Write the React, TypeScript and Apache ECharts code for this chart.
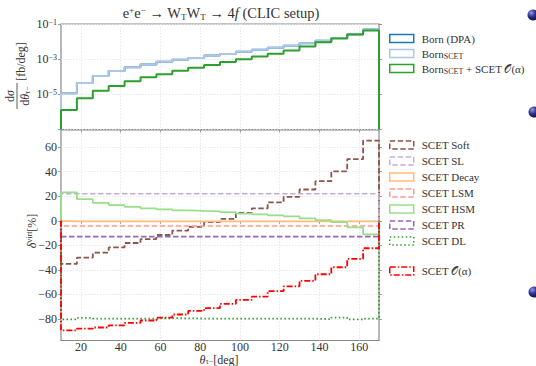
import React, { useEffect, useRef } from 'react';
import * as echarts from 'echarts';

// ---------- data ----------
const binEdges = [10, 18, 26, 34, 42, 50, 58, 66, 74, 82, 90, 98, 106, 114, 122, 130, 138, 146, 154, 162, 170];
const xTicks = [20, 40, 60, 80, 100, 120, 140, 160];
const deltaTicks = [-80, -60, -40, -20, 0, 20, 40, 60];

const bornDPA = [1.15e-5, 4.4e-5, 1.1e-4, 2.1e-4, 3.5e-4, 4.9e-4, 7.2e-4, 9.3e-4, 1.15e-3, 1.6e-3, 1.95e-3, 2.6e-3, 3.4e-3, 4.5e-3, 5.8e-3, 8.1e-3, 1.1e-2, 1.6e-2, 2.6e-2, 4.8e-2];
const bornSCET = [1.15e-5, 4.4e-5, 1.1e-4, 2.1e-4, 3.5e-4, 4.9e-4, 7.2e-4, 9.3e-4, 1.15e-3, 1.6e-3, 1.95e-3, 2.6e-3, 3.4e-3, 4.5e-3, 5.8e-3, 8.1e-3, 1.1e-2, 1.6e-2, 2.6e-2, 4.8e-2];
const bornSCETplus = [1.3e-6, 5.9e-6, 1.6e-5, 3.0e-5, 5.6e-5, 9.3e-5, 1.4e-4, 2.2e-4, 3.3e-4, 4.7e-4, 6.9e-4, 9.8e-4, 1.4e-3, 2.0e-3, 3.1e-3, 5.2e-3, 9.1e-3, 1.5e-2, 2.5e-2, 4.2e-2];

const scetSoft = [-35.2, -30.1, -26.0, -21.7, -18.1, -14.9, -11.6, -8.1, -4.9, -1.1, 1.6, 6.5, 10.1, 15.0, 19.5, 25.5, 32.3, 40.2, 50.2, 65.4];
const scetSL = [22.0, 22.0, 22.0, 22.0, 22.0, 22.0, 22.0, 22.0, 22.0, 22.0, 22.0, 22.0, 22.0, 22.0, 22.0, 22.0, 22.0, 22.0, 22.0, 22.0];
const scetDecay = [-0.5, -0.5, -0.5, -0.5, -0.5, -0.5, -0.5, -0.5, -0.5, -0.5, -0.5, -0.5, -0.5, -0.5, -0.5, -0.5, -0.5, -0.5, -0.5, -0.5];
const scetLSM = [-4.3, -4.3, -4.3, -4.3, -4.3, -4.3, -4.3, -4.3, -4.3, -4.3, -4.3, -4.3, -4.3, -4.3, -4.3, -4.3, -4.3, -4.3, -4.3, -4.3];
const scetHSM = [23.1, 17.6, 14.6, 12.8, 11.4, 10.1, 9.3, 8.5, 8.0, 7.7, 7.0, 5.8, 5.2, 4.4, 3.6, 1.9, 0.6, -1.1, -5.4, -11.1];
const scetPR = [-13.0, -13.0, -13.0, -13.0, -13.0, -13.0, -13.0, -13.0, -13.0, -13.0, -13.0, -13.0, -13.0, -13.0, -13.0, -13.0, -13.0, -13.0, -13.0, -13.0];
const scetDL = [-80.3, -79.2, -79.8, -79.8, -79.8, -79.7, -79.4, -79.5, -79.7, -79.8, -79.8, -79.8, -79.8, -79.8, -79.8, -79.8, -80.2, -78.9, -80.4, -79.8];
const scetAlpha = [-89.4, -88.0, -87.0, -85.2, -83.3, -81.3, -78.9, -76.4, -73.5, -71.2, -67.7, -64.5, -61.8, -57.4, -53.4, -49.0, -43.6, -37.9, -31.1, -22.4];

const FONT = 'Liberation Serif';
const TXT = '#333';
const AX = '#888';

function stepData(values: number[], base: number) {
  const pts: number[][] = [[binEdges[0], base]];
  values.forEach((v, i) => {
    pts.push([binEdges[i], v]);
    pts.push([binEdges[i + 1], v]);
  });
  pts.push([binEdges[binEdges.length - 1], base]);
  return pts;
}

const rich = {
  sup: { fontFamily: FONT, fontSize: 8, verticalAlign: 'top', lineHeight: 9, fill: TXT, color: TXT },
  sub: { fontFamily: FONT, fontSize: 8, verticalAlign: 'bottom', lineHeight: 9, fill: TXT, color: TXT },
  it: { fontFamily: FONT, fontStyle: 'italic', fontSize: 14, fill: TXT, color: TXT },
  iti: { fontFamily: FONT, fontStyle: 'italic', fontSize: 12, fill: TXT, color: TXT },
};
const richTitle = {
  sup: { fontFamily: FONT, fontSize: 9, verticalAlign: 'top', lineHeight: 9, fill: TXT },
  sub: { fontFamily: FONT, fontSize: 9, verticalAlign: 'bottom', lineHeight: 9, fill: TXT },
  it: { fontFamily: FONT, fontStyle: 'italic', fontSize: 14.5, fill: TXT },
};
const richX = {
  sub: { fontFamily: FONT, fontSize: 8, verticalAlign: 'bottom', lineHeight: 8, fill: TXT },
  iti: { fontFamily: FONT, fontStyle: 'italic', fontSize: 12, lineHeight: 10, fill: TXT },
  n: { fontFamily: FONT, fontSize: 12, lineHeight: 10, fill: TXT },
};

const legendNames: Record<string, string> = {
  'Born (DPA)': 'Born (DPA)',
  'Born_SCET': 'Born{sub|SCET}',
  'Born_SCET + SCET O(α)': 'Born{sub|SCET} + SCET 𝒪(α)',
  'SCET Soft': 'SCET Soft',
  'SCET SL': 'SCET SL',
  'SCET Decay': 'SCET Decay',
  'SCET LSM': 'SCET LSM',
  'SCET HSM': 'SCET HSM',
  'SCET PR': 'SCET PR',
  'SCET DL': 'SCET DL',
  'SCET O(α)': 'SCET 𝒪(α)',
};

type SeriesDef = { name: string; values: number[]; color: string; dash: any; width: number };

const topDefs: SeriesDef[] = [
  { name: 'Born (DPA)', values: bornDPA, color: '#1f77b4', dash: 'solid', width: 2 },
  { name: 'Born_SCET', values: bornSCET, color: '#aec7e8', dash: 'solid', width: 2 },
  { name: 'Born_SCET + SCET O(α)', values: bornSCETplus, color: '#2ca02c', dash: 'solid', width: 2 },
];
const botDefs: SeriesDef[] = [
  { name: 'SCET Soft', values: scetSoft, color: '#8c564b', dash: [5.5, 2.5], width: 1.8 },
  { name: 'SCET SL', values: scetSL, color: '#c5b0d5', dash: [5.5, 2.5], width: 1.6 },
  { name: 'SCET Decay', values: scetDecay, color: '#ffbb78', dash: 'solid', width: 1.8 },
  { name: 'SCET LSM', values: scetLSM, color: '#ff9896', dash: [5.5, 2.5], width: 1.6 },
  { name: 'SCET HSM', values: scetHSM, color: '#98df8a', dash: 'solid', width: 1.8 },
  { name: 'SCET PR', values: scetPR, color: '#9467bd', dash: [5.5, 2.5], width: 1.8 },
  { name: 'SCET DL', values: scetDL, color: '#2ca02c', dash: [1.5, 2.5], width: 1.8 },
  { name: 'SCET O(α)', values: scetAlpha, color: '#ff0000', dash: [6, 2, 1.5, 2], width: 1.8 },
];

function legendItem(d: SeriesDef) {
  return {
    name: d.name,
    icon: 'rect',
    itemStyle: { color: 'rgba(0,0,0,0)', borderColor: d.color, borderWidth: 1.5, borderType: d.dash === 'solid' ? 'solid' : d.dash },
  };
}

const legendBase = {
  orient: 'vertical',
  itemWidth: 24,
  itemHeight: 8,
  padding: 0,
  selectedMode: false,
  icon: 'rect',
  formatter: (n: string) => legendNames[n] || n,
  textStyle: { fontFamily: FONT, fontSize: 11, color: TXT, lineHeight: 13, padding: [0, 0, 0, 3], rich },
};

export default function App() {
  const ref = useRef<HTMLDivElement>(null);
  useEffect(() => {
    if (!ref.current) return;
    const chart = echarts.init(ref.current, undefined, { renderer: 'svg' });
    const gridLine = { show: true, lineStyle: { color: '#e3e3e3', type: [1.5, 1.5], width: 0.8 } };
    const tick = { show: true, length: 3, lineStyle: { color: AX, width: 0.8 } };
    const label = { fontFamily: FONT, fontSize: 12, color: TXT };

    const dots = [
      { x: 533, y: 15 },
      { x: 534, y: 112 },
      { x: 534, y: 292 },
    ].map((p) => ({
      type: 'circle',
      shape: { cx: p.x, cy: p.y, r: 5.5 },
      style: {
        fill: new echarts.graphic.RadialGradient(0.35, 0.3, 0.75, [
          { offset: 0, color: '#8f9ae8' },
          { offset: 0.5, color: '#2b2f8a' },
          { offset: 1, color: '#10113f' },
        ]),
      },
    }));

    const option: any = {
      animation: false,
      backgroundColor: '#fff',
      grid: [
        { left: 61, top: 24, width: 318, height: 105.5, show: true, borderColor: AX, borderWidth: 1.2, backgroundColor: 'transparent' },
        { left: 61, top: 130, width: 318, height: 210.5, show: true, borderColor: AX, borderWidth: 1.2, backgroundColor: 'transparent' },
      ],
      xAxis: [
        {
          type: 'value', gridIndex: 0, min: 10, max: 170,
          axisLine: { show: false },
          axisTick: { ...tick, customValues: xTicks },
          axisLabel: { show: false, customValues: xTicks },
          splitLine: gridLine,
        },
        {
          type: 'value', gridIndex: 1, min: 10, max: 170,
          axisLine: { show: false },
          axisTick: { ...tick, customValues: xTicks },
          axisLabel: { ...label, margin: 1, lineHeight: 11, customValues: xTicks },
          splitLine: gridLine,
        },
      ],
      yAxis: [
        {
          type: 'log', gridIndex: 0, min: 1e-7, max: 1e-1, logBase: 10, interval: 2, splitNumber: 3,
          axisLine: { show: false },
          axisTick: tick,
          axisLabel: {
            ...label, margin: 4, rich,
            formatter: (v: number) => {
              const e = Math.round(Math.log10(v));
              if (e <= -7) return '';
              return '10{sup|−' + (-e) + '}';
            },
          },
          splitLine: gridLine,
        },
        {
          type: 'log', gridIndex: 0, min: 1e-7, max: 1e-1, logBase: 10, interval: 2, splitNumber: 3, position: 'right',
          axisLine: { show: false }, axisTick: tick, axisLabel: { show: false }, splitLine: { show: false },
        },
        {
          type: 'value', gridIndex: 1, min: -97.6, max: 74,
          axisLine: { show: false },
          axisTick: { ...tick, customValues: deltaTicks },
          axisLabel: { ...label, margin: 4, customValues: deltaTicks, formatter: (v: number) => (v < 0 ? '−' + (-v) : String(v)) },
          splitLine: gridLine,
        },
        {
          type: 'value', gridIndex: 1, min: -97.6, max: 74, position: 'right',
          axisLine: { show: false },
          axisTick: { ...tick, customValues: deltaTicks },
          axisLabel: { show: false, customValues: deltaTicks },
          splitLine: { show: false },
        },
      ],
      legend: [
        { ...legendBase, left: 389, top: 32, itemGap: 2, data: topDefs.map(legendItem) },
        { ...legendBase, left: 389, top: 138.5, itemGap: 3, data: botDefs.slice(0, 7).map(legendItem) },
        { ...legendBase, left: 389, top: 264.5, itemGap: 3, data: botDefs.slice(7).map(legendItem) },
      ],
      series: [
        ...topDefs.map((d) => ({
          name: d.name, type: 'line', xAxisIndex: 0, yAxisIndex: 0,
          data: stepData(d.values, 1e-7), showSymbol: false, symbol: 'none',
          lineStyle: { color: d.color, width: d.width, type: d.dash },
          itemStyle: { color: d.color },
        })),
        ...botDefs.map((d) => ({
          name: d.name, type: 'line', xAxisIndex: 1, yAxisIndex: 2,
          data: stepData(d.values, 0), showSymbol: false, symbol: 'none',
          lineStyle: { color: d.color, width: d.width, type: d.dash },
          itemStyle: { color: d.color },
        })),
      ],
      graphic: [
        {
          type: 'text', x: 221, y: 13,
          style: {
            text: 'e{sup|+}e{sup|−} → W{sub|T}W{sub|T} → 4{it|f} (CLIC setup)',
            fontFamily: FONT, fontSize: 14.5, fill: TXT, align: 'center', verticalAlign: 'middle', lineHeight: 16, rich: richTitle,
          },
        },
        {
          type: 'group', x: 17, y: 79, rotation: Math.PI / 2,
          children: [
            { type: 'text', x: -17, y: -1.5, style: { text: 'd{iti|σ}', fontFamily: FONT, fontSize: 12, fill: TXT, align: 'center', verticalAlign: 'bottom', rich } },
            { type: 'line', shape: { x1: -30, y1: 0, x2: -4, y2: 0 }, style: { stroke: TXT, lineWidth: 0.8 } },
            { type: 'text', x: -17, y: 1.5, style: { text: 'd{iti|θ}{sub|τ−}', fontFamily: FONT, fontSize: 12, fill: TXT, align: 'center', verticalAlign: 'top', lineHeight: 13, rich } },
            { type: 'text', x: 17.5, y: 3.5, style: { text: '[fb/deg]', fontFamily: FONT, fontSize: 12, fill: TXT, align: 'center', verticalAlign: 'middle' } },
          ],
        },
        {
          type: 'text', x: 32, y: 231, rotation: Math.PI / 2,
          style: { text: '{iti|δ}{sup|virt}[%]', fontFamily: FONT, fontSize: 12, fill: TXT, align: 'center', verticalAlign: 'middle', lineHeight: 14, rich },
        },
        {
          type: 'text', x: 219, y: 360,
          style: { text: '{iti|θ}{sub|τ−}{n|[deg]}', fontFamily: FONT, fontSize: 12, fill: TXT, align: 'center', verticalAlign: 'middle', lineHeight: 10, rich: richX },
        },
        ...dots,
      ],
    };
    chart.setOption(option);
    return () => chart.dispose();
  }, []);
  return <div ref={ref} style={{ position: 'fixed', left: 0, top: 0, width: 536, height: 366 }} />;
}
